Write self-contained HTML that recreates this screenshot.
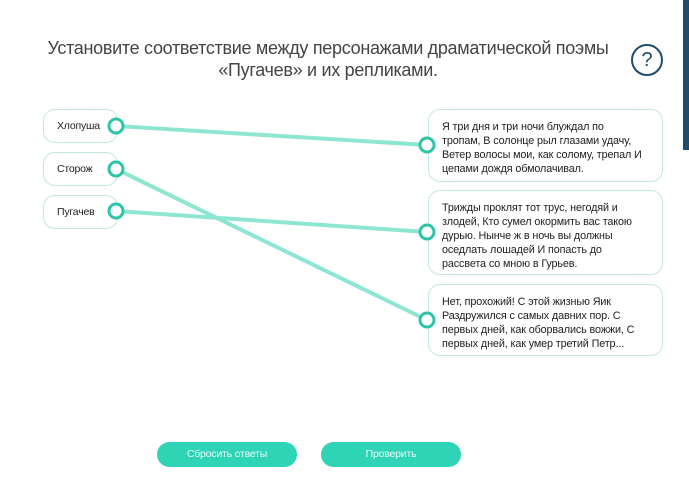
<!DOCTYPE html>
<html><head><meta charset="utf-8"><style>
body{margin:0;width:689px;height:500px;background:#fff;position:relative;overflow:hidden;font-family:"Liberation Sans",sans-serif;}
.t{position:absolute;left:8px;width:640px;text-align:center;font-size:18px;color:#444;line-height:22px;top:37px;letter-spacing:-0.3px}
.b{position:absolute;border:1px solid #bfe9df;border-radius:12px;background:#fff;box-sizing:border-box}
.l{left:43px;width:75px;height:34px;font-size:10.5px;color:#222;line-height:32px;padding-left:13px;letter-spacing:-0.2px}
.r{left:428px;width:235px;font-size:10.8px;color:#222;line-height:14px;padding:10px 6px 0 13px;letter-spacing:-0.12px;white-space:nowrap}
.btn{position:absolute;top:442px;height:25px;width:140px;border-radius:13px;background:#2fd3b5;color:#eafff9;font-size:10.5px;text-align:center;line-height:25px;letter-spacing:-0.2px}
svg{position:absolute;left:0;top:0}
</style></head><body>
<div class="t">Установите соответствие между персонажами драматической поэмы<br>«Пугачев» и их репликами.</div>
<div style="position:absolute;left:631px;top:44px;width:28px;height:28px;border:2px solid #1e4d6b;border-radius:50%;text-align:center;line-height:28px;font-size:20px;color:#1e4d6b">?</div>
<div style="position:absolute;left:683px;top:0;width:6px;height:150px;background:#1e4d6b"></div>
<div class="b l" style="top:109px">Хлопуша</div>
<div class="b l" style="top:152px">Сторож</div>
<div class="b l" style="top:195px">Пугачев</div>
<div class="b r" style="top:109px;height:73px">Я три дня и три ночи блуждал по<br>тропам, В солонце рыл глазами удачу,<br>Ветер волосы мои, как солому, трепал И<br>цепами дождя обмолачивал.</div>
<div class="b r" style="top:190px;height:85px">Трижды проклят тот трус, негодяй и<br>злодей, Кто сумел окормить вас такою<br>дурью. Нынче ж в ночь вы должны<br>оседлать лошадей И попасть до<br>рассвета со мною в Гурьев.</div>
<div class="b r" style="top:284px;height:72px">Нет, прохожий! С этой жизнью Яик<br>Раздружился с самых давних пор. С<br>первых дней, как оборвались вожжи, С<br>первых дней, как умер третий Петр...</div>
<svg width="689" height="500">
<g stroke="#8ee6d2" stroke-width="4" stroke-linecap="round">
<line x1="116" y1="126" x2="427" y2="145"/>
<line x1="116" y1="169" x2="427" y2="320"/>
<line x1="116" y1="211" x2="427" y2="232"/>
</g>
<g fill="#fff" stroke="#2ec4a8" stroke-width="3">
<circle cx="116" cy="126" r="7"/><circle cx="116" cy="169" r="7"/><circle cx="116" cy="211" r="7"/>
<circle cx="427" cy="145" r="7"/><circle cx="427" cy="232" r="7"/><circle cx="427" cy="320" r="7"/>
</g>
</svg>
<div class="btn" style="left:157px">Сбросить ответы</div>
<div class="btn" style="left:321px">Проверить</div>
</body></html>
